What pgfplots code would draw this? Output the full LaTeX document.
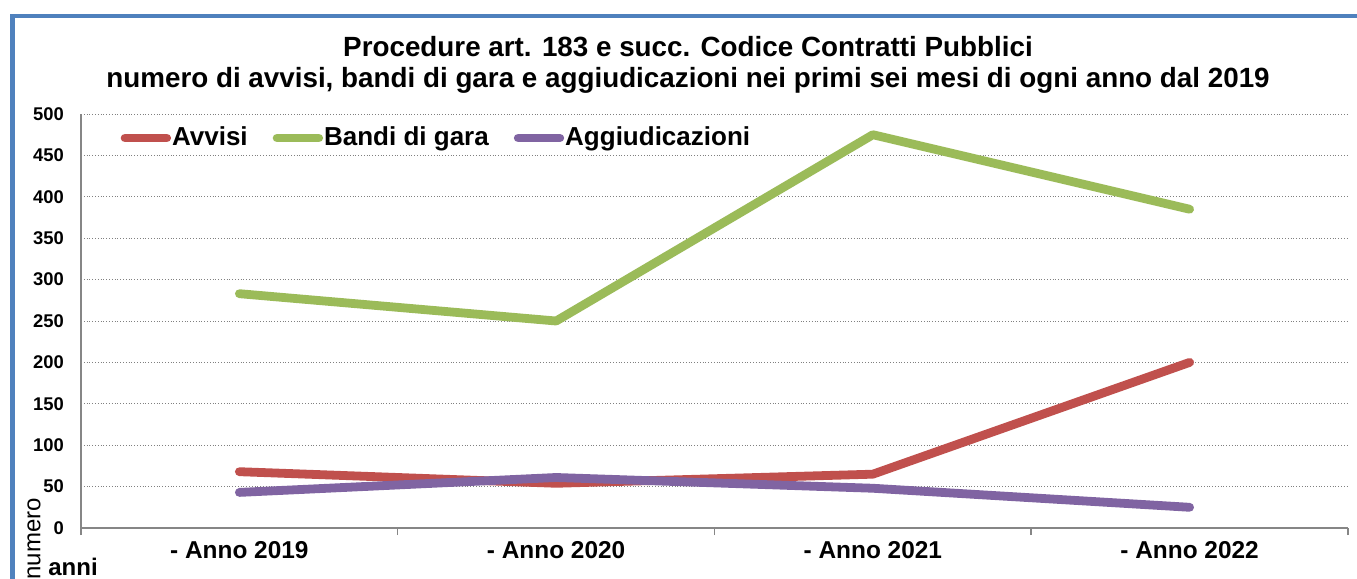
\documentclass[border=0pt]{standalone}
\usepackage{pgfplots}
\pgfplotsset{compat=1.18}
\usepackage{fontspec}
\setmainfont{Liberation Sans}

\definecolor{avvisi}{HTML}{C0504D}
\definecolor{bandi}{HTML}{9BBB59}
\definecolor{aggiud}{HTML}{8064A2}
\definecolor{frame}{HTML}{4F81BD}
\definecolor{axisgray}{HTML}{868686}

\begin{document}
\begin{tikzpicture}
% 1 px of the reference = 0.5pt
\path[use as bounding box] (0,0) rectangle (678.5pt,289.5pt);
\draw[frame, line width=2.25pt] (6.25pt,-20pt) rectangle (700pt,281.5pt);

\node[anchor=base, inner sep=0pt, font=\bfseries\fontsize{13.9}{16}\selectfont]
  at (344pt,261pt) {Procedure art. 183 e succ. Codice Contratti Pubblici};
\node[anchor=base, inner sep=0pt, font=\bfseries\fontsize{13.9}{16}\selectfont]
  at (344pt,245.5pt) {numero di avvisi, bandi di gara e aggiudicazioni nei primi sei mesi di ogni anno dal 2019};

\begin{axis}[
  at={(40.5pt,25.5pt)}, anchor=south west,
  scale only axis, width=633.5pt, height=207pt,
  xmin=0, xmax=4, ymin=0, ymax=500,
  axis lines=left,
  axis line style={-, axisgray, line width=0.75pt},
  xtick={0.5,1.5,2.5,3.5},
  xticklabels={- Anno 2019,- Anno 2020,- Anno 2021,- Anno 2022},
  minor xtick={0,1,2,3,4},
  ytick={0,50,...,500},
  tick align=outside,
  major tick length=0pt,
  minor tick length=3.5pt,
  minor tick style={axisgray, line width=0.75pt},
  ymajorgrids,
  grid style={densely dotted, gray, line width=0.5pt},
  /pgf/number format/assume math mode=true,
  xticklabel style={font=\bfseries\fontsize{12.2}{14}\selectfont, yshift=-3pt},
  yticklabel style={font=\bfseries\fontsize{9.2}{10}\selectfont, xshift=-5pt},
  legend columns=-1,
  legend style={draw=none, fill=none, at={(0.031,0.942)}, anchor=west,
    inner sep=0pt, font=\bfseries\fontsize{13}{15}\selectfont,
    nodes={inner sep=0.5pt},
    /tikz/every even column/.append style={column sep=12pt}},
  legend image code/.code={\draw[#1, line width=4.4pt, line cap=round] (2.2pt,0pt) -- (23pt,0pt);},
  every axis plot/.append style={line width=4.4pt, line cap=round, line join=round},
]
\addplot[avvisi] coordinates {(0.5,68) (1.5,54) (2.5,65) (3.5,200)};
\addplot[bandi] coordinates {(0.5,283) (1.5,250) (2.5,475) (3.5,385)};
\addplot[aggiud] coordinates {(0.5,43) (1.5,61) (2.5,48) (3.5,25)};
\legend{Avvisi, Bandi di gara, Aggiudicazioni}
\end{axis}

\node[rotate=90, anchor=base west, inner sep=0pt, font=\fontsize{12}{14}\selectfont]
  at (20.25pt,-0.5pt) {numero};
\node[anchor=base west, inner sep=0pt, font=\bfseries\fontsize{12}{14}\selectfont]
  at (24pt,1.5pt) {anni};
\end{tikzpicture}
\end{document}
